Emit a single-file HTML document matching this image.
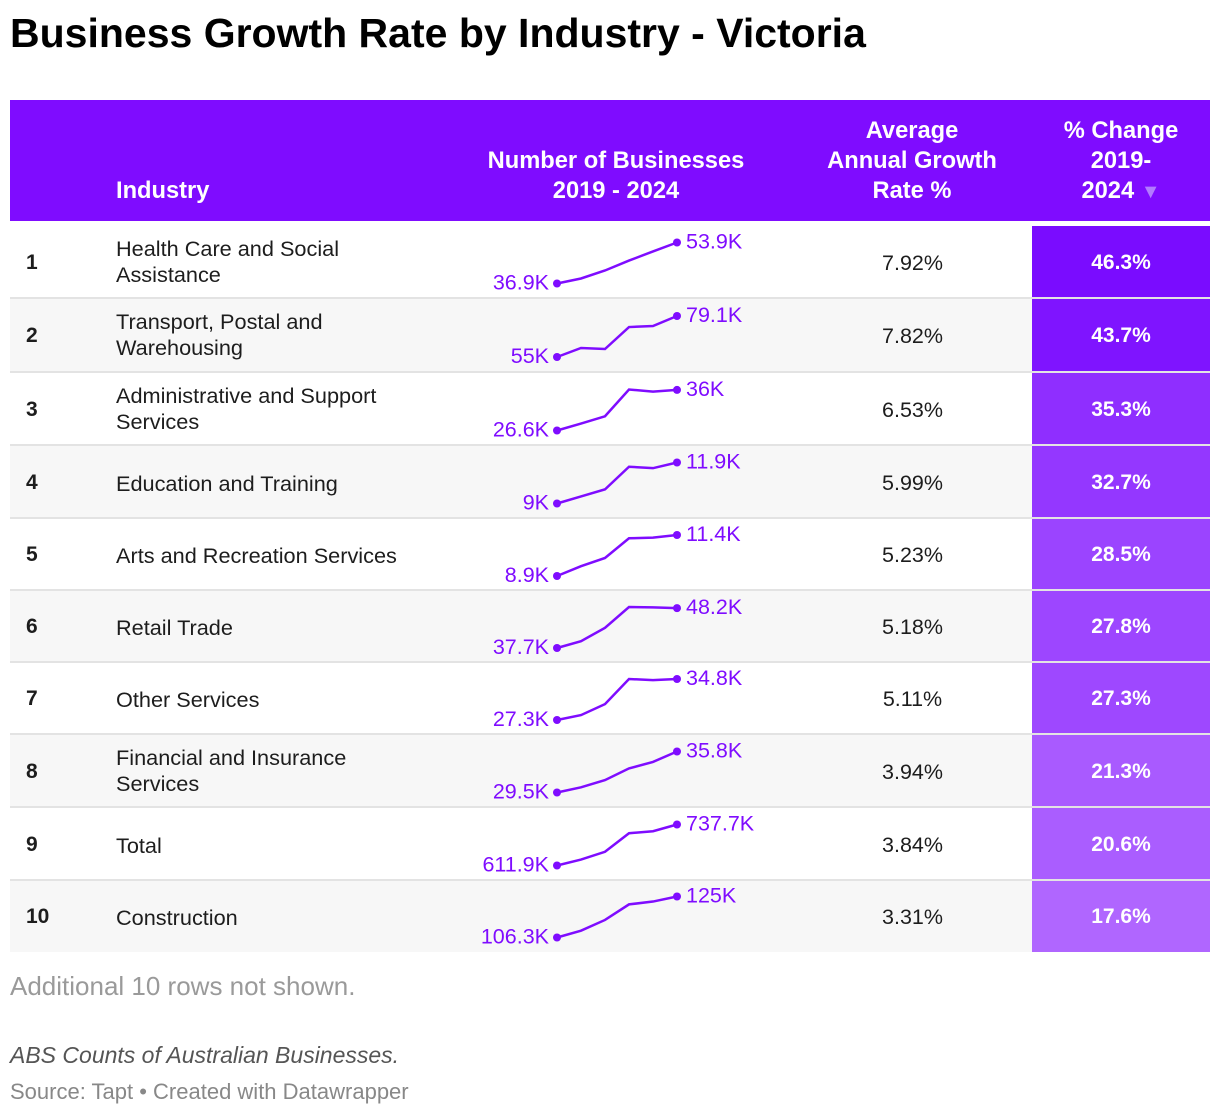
<!DOCTYPE html>
<html><head><meta charset="utf-8"><style>
body{margin:0;width:1220px;height:1116px;background:#fff;font-family:"Liberation Sans",sans-serif;position:relative;overflow:hidden;color:#1d1d1d}
.a{position:absolute;white-space:nowrap}
.hd{color:#fff;font-weight:bold;font-size:23.7px;text-align:center;line-height:30px}
.row{position:absolute;left:10px;width:1200px}
.rk{position:absolute;left:16px;font-weight:bold;font-size:21px}
.ind{position:absolute;left:106px;font-size:21.7px;line-height:26px}
.gr{position:absolute;left:830px;width:145px;text-align:center;font-size:21.5px}
.pc{position:absolute;left:1022px;width:178px;text-align:center;color:#fff;font-weight:bold;font-size:21px}
</style></head><body>
<div class="a" style="left:10px;top:10px;font-size:41px;font-weight:bold;color:#000">Business Growth Rate by Industry - Victoria</div>
<div class="a" style="left:10px;top:100px;width:1200px;height:121px;background:#7f0cff"></div>
<div class="a hd" style="left:116px;top:176px;text-align:left">Industry</div>
<div class="a hd" style="left:476px;top:146px;width:280px">Number of Businesses<br>2019 - 2024</div>
<div class="a hd" style="left:812px;top:116px;width:200px">Average<br>Annual Growth<br>Rate %</div>
<div class="a hd" style="left:1032px;top:116px;width:178px">% Change<br>2019-<br>2024 <span style="color:#b27cff;font-size:20px">▼</span></div>
<div id="rows"></div>
<svg id="spark" class="a" style="left:0;top:0" width="1220" height="1116"></svg>
<div class="a" style="left:10px;top:971px;font-size:26px;color:#9a9a9a">Additional 10 rows not shown.</div>
<div class="a" style="left:10px;top:1042px;font-size:23px;font-style:italic;color:#555">ABS Counts of Australian Businesses.</div>
<div class="a" style="left:10px;top:1079px;font-size:22px;color:#888">Source: Tapt • Created with Datawrapper</div>
<script>
const industries=["Health Care and Social<br>Assistance","Transport, Postal and<br>Warehousing","Administrative and Support<br>Services","Education and Training","Arts and Recreation Services","Retail Trade","Other Services","Financial and Insurance<br>Services","Total","Construction"];
const growthRates=["7.92%","7.82%","6.53%","5.99%","5.23%","5.18%","5.11%","3.94%","3.84%","3.31%"];
const pctChange=[46.3,43.7,35.3,32.7,28.5,27.8,27.3,21.3,20.6,17.6];
const startLabels=["36.9K","55K","26.6K","9K","8.9K","37.7K","27.3K","29.5K","611.9K","106.3K"];
const endLabels=["53.9K","79.1K","36K","11.9K","11.4K","48.2K","34.8K","35.8K","737.7K","125K"];
const s1=[36.9,38.98,42.3,46.4,50.2,53.9];
const s2=[55,60.3,59.7,72.6,73.2,79.1];
const s3=[26.6,28.2,29.9,36.1,35.6,36];
const s4=[9,9.5,10.0,11.6,11.5,11.9];
const s5=[8.9,9.5,10.0,11.2,11.24,11.4];
const s6=[37.7,39.5,43,48.5,48.4,48.2];
const s7=[27.3,28.2,30.2,34.8,34.6,34.8];
const s8=[29.5,30.3,31.4,33.2,34.2,35.8];
const s9=[611.9,630,654,711,717,737.7];
const s10=[106.3,109.4,114.3,121.4,122.7,125];
const series=[s1,s2,s3,s4,s5,s6,s7,s8,s9,s10];
const tops=[226,299,373,446,519,591,663,735,808,881,952];
const rows=document.getElementById('rows');
const svg=document.getElementById('spark');
const NS='http://www.w3.org/2000/svg';
const pMin=Math.min(...pctChange),pMax=Math.max(...pctChange);
function col(v){const t=(pMax-v)/(pMax-pMin);const r=Math.round(122+t*(176-122)),g=Math.round(12+t*(102-12));return `rgb(${r},${g},255)`;}
for(let i=0;i<10;i++){
  const top=tops[i],h=tops[i+1]-top,c=top+h/2;
  const r=document.createElement('div');r.className='row';
  
  
  r.style.top=top+'px';r.style.height=h+'px';
  r.style.background=i%2?'#f7f7f7':'#fff';
  if(i<9) r.style.borderBottom='2px solid #e3e3e3';
  r.style.boxSizing='border-box';
  const lines=industries[i].includes('<br>');
  r.innerHTML=`<div class="rk" style="top:${h/2-12}px">${i+1}</div>
  <div class="ind" style="top:${lines?h/2-27:h/2-12}px">${industries[i]}</div>
  <div class="gr" style="top:${h/2-12}px">${growthRates[i]}</div>
  <div style="position:absolute;left:1022px;top:0;width:178px;height:${h-(i<9?2:0)}px;background:${col(pctChange[i])}"></div>
  <div class="pc" style="top:${h/2-12}px">${pctChange[i]}%</div>`;
  rows.appendChild(r);
  const s=series[i],mn=Math.min(...s),mx=Math.max(...s);
  const xs=k=>557+k*24, ys=v=>(c+21)-(v-mn)/(mx-mn)*41;
  const pl=document.createElementNS(NS,'polyline');
  
  
  pl.setAttribute('points',s.map((v,k)=>xs(k)+','+ys(v)).join(' '));
  pl.setAttribute('fill','none');pl.setAttribute('stroke','#7f0cff');pl.setAttribute('stroke-width','2.5');
  svg.appendChild(pl);
  [0,5].forEach(k=>{const d=document.createElementNS(NS,'circle');
    
    
    d.setAttribute('cx',xs(k));d.setAttribute('cy',ys(s[k]));d.setAttribute('r','4');d.setAttribute('fill','#7f0cff');svg.appendChild(d);});
  const t1=document.createElementNS(NS,'text');
  
  
  t1.setAttribute('x',549);t1.setAttribute('y',ys(s[0])+6);t1.setAttribute('text-anchor','end');
  t1.setAttribute('font-size','21.5');t1.setAttribute('fill','#7f0cff');t1.setAttribute('font-family','Liberation Sans, sans-serif');
  t1.textContent=startLabels[i];svg.appendChild(t1);
  const t2=document.createElementNS(NS,'text');
  
  
  t2.setAttribute('x',686);t2.setAttribute('y',ys(s[5])+6);
  t2.setAttribute('font-size','21.5');t2.setAttribute('fill','#7f0cff');t2.setAttribute('font-family','Liberation Sans, sans-serif');
  t2.textContent=endLabels[i];svg.appendChild(t2);
}
</script>
</body></html>
